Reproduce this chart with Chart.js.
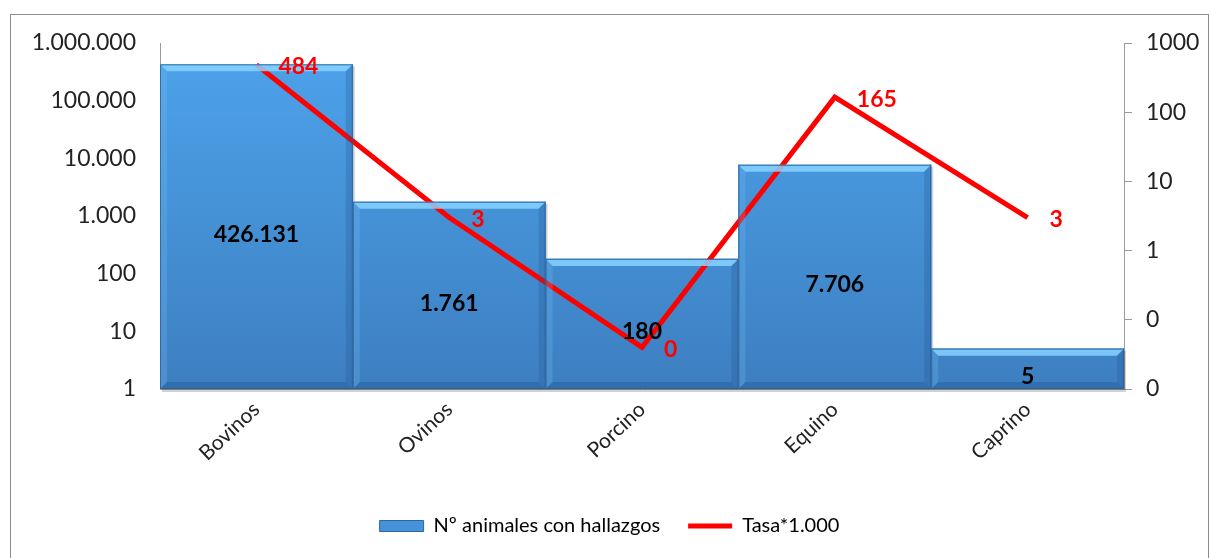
<!DOCTYPE html>
<html>
<head>
<meta charset="utf-8">
<script src="https://cdn.jsdelivr.net/npm/chart.js@4.4.1/dist/chart.umd.min.js"></script>
<style>
  html, body { margin: 0; padding: 0; background: #fff; overflow: hidden; }
  #frame { position: absolute; left: 10px; top: 14px; width: 1197px; height: 560px; border: 1px solid #8c8c8c; }
  #chart { display: block; }
</style>
</head>
<body>
<div id="frame"><canvas id="chart" width="1197" height="560"></canvas></div>
<script>
// Chart data
const categories = ['Bovinos', 'Ovinos', 'Porcino', 'Equino', 'Caprino'];
const animales = [426131, 1761, 180, 7706, 5];
const tasa = [484, 3, 0.04, 165, 3];
const tasaLabels = ['484', '3', '0', '165', '3'];
const leftTicks = [1, 10, 100, 1000, 10000, 100000, 1000000];
const rightTicks = [0.01, 0.1, 1, 10, 100, 1000];
const rightTickLabels = ['0', '0', '1', '10', '100', '1000'];

const FONT = 'Lato, "Open Sans", sans-serif';

function miles(n) {
  return String(n).replace(/\B(?=(\d{3})+(?!\d))/g, '.');
}

function barGradient(context) {
  const chart = context.chart;
  const area = chart.chartArea;
  if (!area) return '#4a98e0';
  const g = chart.ctx.createLinearGradient(0, area.top, 0, area.bottom);
  g.addColorStop(0, '#4da3eb');
  g.addColorStop(1, '#3d7fc1');
  return g;
}

// bevel edges + value labels for bars, red labels for the line
const labelPlugin = {
  id: 'labelPlugin',
  beforeDatasetsDraw(chart) {
    // soft shadow under the bars
    const ctx = chart.ctx;
    const bars = chart.getDatasetMeta(0).data;
    ctx.save();
    ctx.fillStyle = 'rgba(0,0,0,0.18)';
    bars.forEach(function(bar) {
      ctx.fillRect(bar.x - bar.width / 2 + 2, bar.y + 2, bar.width, bar.base - bar.y + 1);
    });
    ctx.restore();
  },
  afterDatasetsDraw(chart) {
    const ctx = chart.ctx;
    const bars = chart.getDatasetMeta(0).data;
    ctx.save();
    bars.forEach(function(bar, i) {
      const left = bar.x - bar.width / 2;
      const right = bar.x + bar.width / 2;
      const top = bar.y;
      const bottom = bar.base;
      const b = Math.min(7, (bottom - top) / 3);
      // top light bevel
      ctx.fillStyle = 'rgba(135,210,255,0.85)';
      ctx.beginPath();
      ctx.moveTo(left, top); ctx.lineTo(right, top);
      ctx.lineTo(right - b, top + b); ctx.lineTo(left + b, top + b);
      ctx.closePath(); ctx.fill();
      // right dark bevel
      ctx.fillStyle = 'rgba(30,80,140,0.25)';
      ctx.beginPath();
      ctx.moveTo(right, top); ctx.lineTo(right, bottom);
      ctx.lineTo(right - b, bottom - b); ctx.lineTo(right - b, top + b);
      ctx.closePath(); ctx.fill();
      // bottom dark bevel
      ctx.fillStyle = 'rgba(30,80,140,0.35)';
      ctx.beginPath();
      ctx.moveTo(left, bottom); ctx.lineTo(right, bottom);
      ctx.lineTo(right - b, bottom - b); ctx.lineTo(left + b, bottom - b);
      ctx.closePath(); ctx.fill();
      // left light bevel
      ctx.fillStyle = 'rgba(120,190,245,0.25)';
      ctx.beginPath();
      ctx.moveTo(left, top); ctx.lineTo(left, bottom);
      ctx.lineTo(left + b, bottom - b); ctx.lineTo(left + b, top + b);
      ctx.closePath(); ctx.fill();
      ctx.strokeStyle = 'rgba(40,95,150,0.8)';
      ctx.lineWidth = 1;
      ctx.strokeRect(left + 0.5, top + 0.5, bar.width - 1, bottom - top - 1);
    });
    // bar value labels
    ctx.font = 'bold 23px ' + FONT;
    ctx.fillStyle = '#000';
    ctx.textAlign = 'center';
    ctx.textBaseline = 'middle';
    bars.forEach(function(bar, i) {
      ctx.fillText(miles(animales[i]), bar.x, (bar.y + bar.base) / 2 + 8);
    });
    // line labels
    const pts = chart.getDatasetMeta(1).data;
    ctx.fillStyle = '#ff0000';
    ctx.textAlign = 'left';
    pts.forEach(function(p, i) {
      ctx.fillText(tasaLabels[i], p.x + 22, p.y + 2);
    });
    ctx.restore();
  }
};

const ctx = document.getElementById('chart').getContext('2d');
new Chart(ctx, {
  data: {
    labels: categories,
    datasets: [
      {
        type: 'bar',
        label: 'Nº animales con hallazgos',
        data: animales,
        yAxisID: 'y',
        backgroundColor: barGradient,
        borderWidth: 0,
        barPercentage: 1,
        categoryPercentage: 1,
        order: 1
      },
      {
        type: 'line',
        label: 'Tasa*1.000',
        data: tasa,
        yAxisID: 'y2',
        borderColor: '#ff0000',
        backgroundColor: '#ff0000',
        borderWidth: 5,
        pointRadius: 0,
        tension: 0,
        order: 0
      }
    ]
  },
  options: {
    responsive: false,
    animation: false,
    layout: { padding: { top: 28, bottom: 29, left: 0, right: 0 } },
    plugins: {
      tooltip: { enabled: false },
      legend: {
        position: 'bottom',
        labels: {
          color: '#222',
          font: { family: FONT, size: 20 },
          usePointStyle: true,
          pointStyleWidth: 44,
          boxHeight: 11,
          padding: 28,
          generateLabels(chart) {
            return [
              { text: 'Nº animales con hallazgos', pointStyle: 'rect', fillStyle: '#4592db', strokeStyle: '#2e679f', lineWidth: 1, datasetIndex: 0 },
              { text: 'Tasa*1.000', pointStyle: 'line', fillStyle: '#ff0000', strokeStyle: '#ff0000', lineWidth: 5, datasetIndex: 1 }
            ];
          }
        }
      }
    },
    scales: {
      x: {
        grid: { display: false, drawTicks: false },
        border: { color: '#9a9a9a' },
        ticks: {
          color: '#222',
          font: { family: FONT, size: 21 },
          minRotation: 43,
          maxRotation: 43,
          padding: 8
        },
        afterFit(scale) { scale.height = 99; }
      },
      y: {
        type: 'logarithmic',
        position: 'left',
        min: 1,
        max: 1000000,
        // invisible tick marks keep the label gap without adding top padding
        grid: { display: true, drawOnChartArea: false, drawTicks: true, tickLength: 21, color: 'rgba(0,0,0,0)' },
        border: { color: '#9a9a9a' },
        afterBuildTicks(scale) { scale.ticks = leftTicks.map(v => ({ value: v })); },
        ticks: {
          color: '#222',
          font: { family: FONT, size: 23 },
          padding: 3,
          callback: v => miles(v)
        },
        afterFit(scale) { scale.width = 149; }
      },
      y2: {
        type: 'logarithmic',
        position: 'right',
        min: 0.01,
        max: 1000,
        grid: { display: true, drawOnChartArea: false, drawTicks: true, tickLength: 8, color: '#9a9a9a' },
        border: { color: '#9a9a9a' },
        afterBuildTicks(scale) { scale.ticks = rightTicks.map(v => ({ value: v })); },
        ticks: {
          color: '#222',
          font: { family: FONT, size: 23 },
          padding: 14,
          callback: (v) => rightTickLabels[rightTicks.indexOf(v)]
        },
        afterFit(scale) { scale.width = 84; }
      }
    }
  },
  plugins: [labelPlugin]
});
</script>
</body>
</html>
